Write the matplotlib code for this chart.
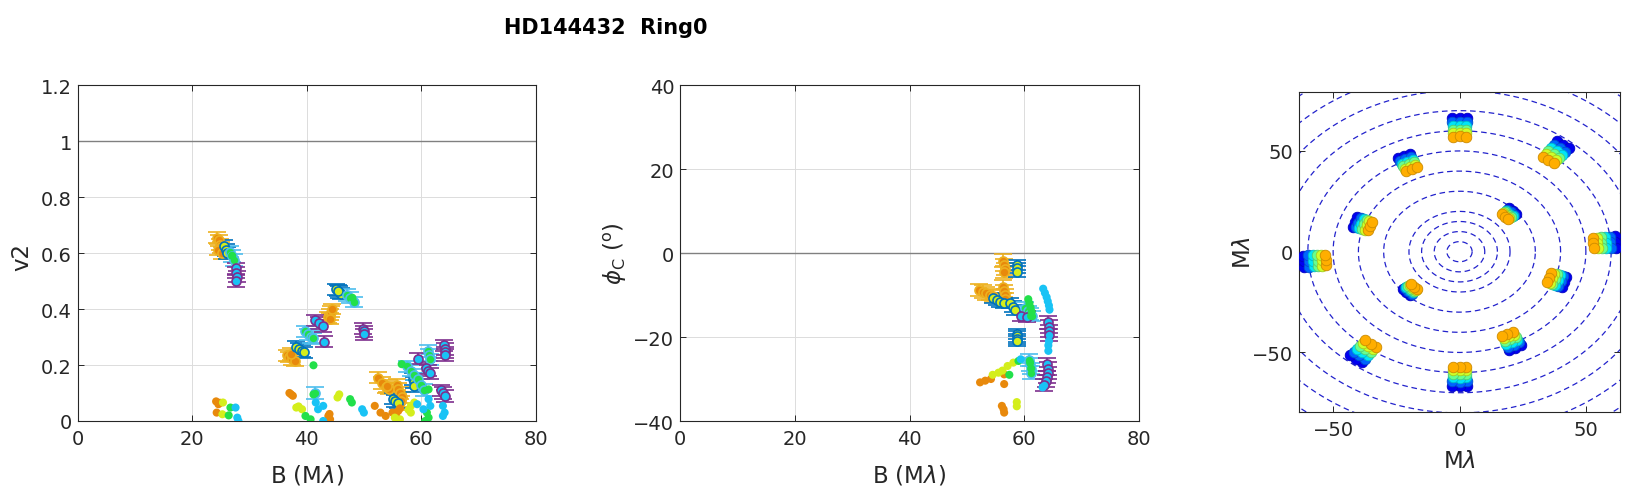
import numpy as np
import matplotlib
matplotlib.use('Agg')
import matplotlib.pyplot as plt
from matplotlib import colors as mcolors

plt.rcParams['font.family'] = ['DejaVu Sans']
plt.rcParams['mathtext.fontset'] = 'dejavusans'

TITLE = 'HD144432  Ring0'

# ---------------- squared visibility: error-bar groups (B in Mlambda) ----------------
v2_gold_B = [24.4, 24.7, 24.9, 25.1, 24.6, 25.3, 36.5, 37.0, 37.5, 38.0, 37.2, 43.8, 44.0, 44.2, 44.4, 44.0,
             52.5, 53.2, 53.8, 54.3, 54.0, 55.8, 56.0, 56.3, 56.6, 56.5, 56.2]
v2_gold_V = [0.655, 0.645, 0.630, 0.620, 0.612, 0.600, 0.235, 0.228, 0.220, 0.215, 0.240, 0.370, 0.380, 0.390, 0.400, 0.365,
             0.155, 0.135, 0.120, 0.115, 0.125, 0.130, 0.115, 0.100, 0.085, 0.070, 0.060]
v2_gold_E = [0.020, 0.021, 0.020, 0.019, 0.020, 0.021, 0.020, 0.019, 0.020, 0.020, 0.021, 0.020, 0.021, 0.020, 0.019, 0.020,
             0.020, 0.021, 0.020, 0.019, 0.020, 0.021, 0.020, 0.020, 0.019, 0.020, 0.021]

v2_blue_B = [25.6, 25.9, 26.1, 38.2, 38.7, 39.2, 39.5, 45.2, 45.6, 46.0, 45.5, 55.0, 55.5, 56.0, 58.6, 58.7, 58.8]
v2_blue_V = [0.625, 0.612, 0.600, 0.265, 0.258, 0.250, 0.245, 0.470, 0.462, 0.455, 0.466, 0.080, 0.072, 0.065, 0.150, 0.138, 0.125]
v2_blue_E = [0.020, 0.021, 0.020, 0.020, 0.019, 0.020, 0.021, 0.020, 0.021, 0.020, 0.019, 0.020, 0.021, 0.020, 0.020, 0.019, 0.021]

v2_lblue_B = [26.6, 27.0, 27.4, 39.8, 40.3, 40.8, 41.2, 41.4, 47.0, 47.6, 48.2, 57.5, 58.2, 58.8, 59.5, 60.0, 60.5,
              61.2, 61.4, 61.6]
v2_lblue_V = [0.605, 0.590, 0.575, 0.320, 0.310, 0.300, 0.295, 0.100, 0.450, 0.440, 0.425, 0.195, 0.180, 0.165, 0.150,
              0.130, 0.110, 0.250, 0.235, 0.220]
v2_lblue_E = [0.020, 0.021, 0.020, 0.020, 0.019, 0.020, 0.021, 0.020, 0.021, 0.020, 0.019, 0.020, 0.021, 0.020, 0.020,
              0.019, 0.021, 0.020, 0.021, 0.020]

v2_purple_B = [27.6, 27.7, 27.8, 27.6, 41.5, 42.2, 42.8, 43.0, 49.8, 50.0, 50.1, 59.4, 60.8, 61.2, 61.5, 64.0, 64.1,
               64.2, 64.2, 63.4, 63.8, 64.2]
v2_purple_V = [0.545, 0.530, 0.515, 0.500, 0.360, 0.350, 0.340, 0.283, 0.330, 0.320, 0.310, 0.222, 0.190, 0.180, 0.170,
               0.270, 0.258, 0.245, 0.235, 0.110, 0.100, 0.090]
v2_purple_E = [0.020, 0.021, 0.020, 0.020, 0.019, 0.020, 0.021, 0.020, 0.021, 0.020, 0.019, 0.020, 0.021, 0.020, 0.020,
               0.019, 0.021, 0.020, 0.021, 0.020, 0.020, 0.021]

# squared visibility: single points without error bars
v2_dot_orange_B = [24.2, 24.6, 24.3, 24.9, 37.0, 37.6, 37.3, 43.8, 44.1, 44.0, 51.9, 52.9, 53.8, 55.0, 56.0, 55.6, 56.3]
v2_dot_orange_V = [0.070, 0.060, 0.030, 0.065, 0.100, 0.090, 0.095, 0.018, 0.006, 0.025, 0.054, 0.030, 0.018, 0.030,
                   0.036, 0.020, 0.045]
v2_dot_yellow_B = [25.4, 25.3, 38.2, 39.2, 38.6, 45.4, 45.7, 55.4, 56.3, 58.2, 58.8, 58.2, 57.8]
v2_dot_yellow_V = [0.066, 0.024, 0.048, 0.042, 0.052, 0.084, 0.095, 0.012, 0.006, 0.054, 0.066, 0.030, 0.040]
v2_dot_green_B = [26.7, 26.4, 27.0, 39.8, 40.7, 41.2, 41.2, 47.6, 47.9, 48.0, 56.6, 61.3, 61.0, 61.3, 60.7]
v2_dot_green_V = [0.048, 0.020, 0.590, 0.018, 0.006, 0.199, 0.095, 0.078, 0.066, 0.440, 0.203, 0.113, 0.030, 0.012, 0.000]
v2_dot_cyan_B = [27.6, 27.9, 28.1, 41.6, 42.9, 42.0, 42.9, 49.7, 50.0, 61.3, 61.6, 63.8, 64.1, 63.8, 60.4, 59.3]
v2_dot_cyan_V = [0.048, 0.012, 0.000, 0.066, 0.054, 0.042, 0.000, 0.042, 0.030, 0.078, 0.054, 0.054, 0.030, 0.018,
                 0.042, 0.060]

# ---------------- closure phase (degrees) ----------------
cp_gold_B = [56.3, 56.5, 56.7, 56.4, 52.2, 52.8, 53.4, 54.0, 54.6, 56.3, 56.5, 56.6, 56.7]
cp_gold_C = [-1.8, -2.8, -3.8, -4.5, -8.8, -9.2, -9.6, -9.9, -10.2, -8.0, -9.0, -10.0, -11.0]
cp_gold_E = [1.5, 1.4, 1.5, 1.5, 1.4, 1.5, 1.5, 1.4, 1.5, 1.5, 1.4, 1.5, 1.5]

cp_blue_B = [58.7, 58.8, 58.7, 54.5, 55.2, 55.8, 56.5, 57.5, 58.0, 58.4, 58.7, 58.7, 58.8, 58.7]
cp_blue_C = [-2.8, -3.6, -4.5, -10.8, -11.2, -11.6, -12.0, -12.0, -12.8, -13.6, -19.2, -19.8, -20.4, -21.0]
cp_blue_E = [1.2, 1.2, 1.3, 1.2, 1.2, 1.3, 1.2, 1.2, 1.3, 1.2, 1.2, 1.3, 1.2, 1.2]

cp_lblue_B = [60.2, 60.6, 61.0, 61.4, 60.8, 61.0, 61.1, 61.2]
cp_lblue_C = [-13.0, -13.8, -14.5, -15.0, -25.5, -26.5, -27.5, -28.5]
cp_lblue_E = [1.3, 1.3, 1.4, 1.3, 1.5, 1.5, 1.4, 1.5]

cp_purple_B = [59.5, 60.5, 64.2, 64.3, 64.3, 64.3, 64.0, 64.1, 64.2, 64.0, 63.8, 63.5]
cp_purple_C = [-15.0, -15.2, -16.5, -17.5, -18.5, -19.5, -26.5, -27.5, -28.5, -29.5, -30.5, -31.5]
cp_purple_E = [1.3, 1.3, 1.5, 1.5, 1.4, 1.5, 1.5, 1.5, 1.4, 1.5, 1.5, 1.4]

cp_dot_orange_B = [52.3, 53.2, 54.2, 56.5, 56.5, 56.1, 56.4, 56.5]
cp_dot_orange_C = [-30.8, -30.4, -30.0, -31.2, -28.9, -36.4, -37.2, -38.0]
cp_dot_yellow_B = [54.5, 55.5, 56.2, 57.1, 58.1, 58.7, 58.7]
cp_dot_yellow_C = [-29.0, -28.5, -28.0, -26.9, -26.1, -35.5, -36.5]
cp_dot_green_B = [60.7, 60.9, 61.1, 61.3, 61.2, 61.0, 61.2, 59.0, 57.4]
cp_dot_green_C = [-11.0, -12.0, -13.0, -14.0, -15.0, -26.0, -27.5, -25.7, -29.0]
cp_dot_cyan_B = [63.3, 63.6, 63.9, 64.1, 64.3, 64.4, 64.3, 64.2, 64.2, 59.4, 63.2]
cp_dot_cyan_C = [-8.5, -9.5, -10.5, -11.5, -12.5, -13.5, -21.0, -22.0, -23.3, -25.3, -32.0]

# ---------------- uv coverage ----------------
uv_bu_m = [-4.5, 0.0, 4.5, 59.0, 62.6, 66.2, -37.4, -33.8, -30.2, 93.9, 94.3, 94.6, 30.0, 32.1, 34.2, -64.6, -63.2, -61.8]
uv_bv_m = [101.6, 101.8, 101.6, 83.9, 81.1, 78.4, 71.1, 72.8, 74.5, 11.9, 7.4, 2.9, 33.0, 30.8, 28.6, 19.0, 22.8, 26.6]
wavelengths_um = [1.53, 1.58, 1.63, 1.68, 1.73, 1.78]
ring_radii = [5, 10, 15, 20, 30, 40, 50, 60, 70, 80, 90, 100]

# ---------------- styling ----------------
AX_COL = '#262626'
GOLD, BLUE, LBLUE, PURPLE = '#EDB120', '#0072BD', '#4DBEEE', '#7E2F8E'
ORANGE, YELLOW, GREEN, CYAN = '#E8890C', '#D4EE1C', '#22E04A', '#19C3F5'
TICK_FS = 14
LABEL_FS = 16.5

fig = plt.figure(figsize=(16.44, 5.02), dpi=100)
ax1 = fig.add_axes([77.5 / 1644, 80 / 502, 458.2 / 1644, 336 / 502])
ax2 = fig.add_axes([680 / 1644, 80 / 502, 459 / 1644, 336 / 502])
ax3 = fig.add_axes([1299 / 1644, (502 - 412.7) / 502, 321 / 1644, 320 / 502])


def style(ax, grid=True):
    for s in ax.spines.values():
        s.set_color(AX_COL)
        s.set_linewidth(0.8)
    ax.tick_params(direction='in', top=True, right=True, length=4.5, width=0.7,
                   colors=AX_COL, labelsize=TICK_FS)
    ax.tick_params(axis='x', pad=6)
    ax.tick_params(axis='y', pad=4)
    if grid:
        ax.grid(True, color='#dcdcdc', lw=0.7)
        ax.set_axisbelow(True)


def eb(ax, B, Y, E, ec, fc):
    ax.errorbar(B, Y, yerr=E, fmt='o', ms=6.5, mfc=fc, mec=ec, mew=1.2, ecolor=ec,
                elinewidth=1.2, capsize=6.5, capthick=1.5, zorder=3)


def dots(ax, B, Y, c):
    ax.scatter(B, Y, s=34, c=c, edgecolors='none', zorder=4)


# ---- panel 1: V2 ----
style(ax1)
ax1.axhline(1, color='#808080', lw=1.0, zorder=1)
eb(ax1, v2_gold_B, v2_gold_V, v2_gold_E, GOLD, ORANGE)
eb(ax1, v2_blue_B, v2_blue_V, v2_blue_E, BLUE, YELLOW)
eb(ax1, v2_lblue_B, v2_lblue_V, v2_lblue_E, LBLUE, GREEN)
eb(ax1, v2_purple_B, v2_purple_V, v2_purple_E, PURPLE, CYAN)
dots(ax1, v2_dot_orange_B, v2_dot_orange_V, ORANGE)
dots(ax1, v2_dot_yellow_B, v2_dot_yellow_V, YELLOW)
dots(ax1, v2_dot_green_B, v2_dot_green_V, GREEN)
dots(ax1, v2_dot_cyan_B, v2_dot_cyan_V, CYAN)
ax1.set_xlim(0, 80)
ax1.set_ylim(0, 1.2)
ax1.set_xticks([0, 20, 40, 60, 80])
ax1.set_yticks([0, 0.2, 0.4, 0.6, 0.8, 1.0, 1.2])
ax1.set_yticklabels(['0', '0.2', '0.4', '0.6', '0.8', '1', '1.2'])
ax1.set_xlabel(r'B (M$\lambda$)', fontsize=LABEL_FS, color=AX_COL)
ax1.set_ylabel('v2', fontsize=LABEL_FS, color=AX_COL)
ax1.xaxis.set_label_coords(0.5, -0.158)
ax1.yaxis.set_label_coords(-0.121, 0.49)

# ---- panel 2: closure phase ----
style(ax2)
ax2.axhline(0, color='#808080', lw=1.0, zorder=1)
eb(ax2, cp_gold_B, cp_gold_C, cp_gold_E, GOLD, ORANGE)
eb(ax2, cp_blue_B, cp_blue_C, cp_blue_E, BLUE, YELLOW)
eb(ax2, cp_lblue_B, cp_lblue_C, cp_lblue_E, LBLUE, GREEN)
eb(ax2, cp_purple_B, cp_purple_C, cp_purple_E, PURPLE, CYAN)
dots(ax2, cp_dot_orange_B, cp_dot_orange_C, ORANGE)
dots(ax2, cp_dot_yellow_B, cp_dot_yellow_C, YELLOW)
dots(ax2, cp_dot_green_B, cp_dot_green_C, GREEN)
dots(ax2, cp_dot_cyan_B, cp_dot_cyan_C, CYAN)
ax2.set_xlim(0, 80)
ax2.set_ylim(-40, 40)
ax2.set_xticks([0, 20, 40, 60, 80])
ax2.set_yticks([-40, -20, 0, 20, 40])
ax2.set_xlabel(r'B (M$\lambda$)', fontsize=LABEL_FS, color=AX_COL)
ax2.set_ylabel(r'$\phi_{\rm C}$ ($^{\rm o}$)', fontsize=LABEL_FS, color=AX_COL)
ax2.xaxis.set_label_coords(0.5, -0.158)
ax2.yaxis.set_label_coords(-0.14, 0.5)

# ---- panel 3: uv coverage ----
style(ax3, grid=False)
theta = np.linspace(0, 2 * np.pi, 721)
for r in ring_radii:
    ax3.plot(r * np.cos(theta), r * np.sin(theta), color='#2222cc', lw=0.9,
             dashes=(4.5, 3), zorder=1)

lam = np.array(wavelengths_um)
bu = np.array(uv_bu_m)
bv = np.array(uv_bv_m)
norm = mcolors.Normalize(vmin=1.49, vmax=1.89)
cmap = plt.get_cmap('jet')
for l in lam:
    u = np.concatenate([bu / l, -bu / l])
    v = np.concatenate([bv / l, -bv / l])
    fc = np.array(cmap(norm(l)))
    ec = fc.copy()
    ec[:3] *= 0.8
    ax3.scatter(u, v, s=58, c=[fc], edgecolors=[ec], linewidths=0.6, zorder=3)

ax3.set_xlim(-63.5, 63.5)
ax3.set_ylim(-79.4, 79.4)
ax3.set_xticks([-50, 0, 50])
ax3.set_yticks([-50, 0, 50])
ax3.set_xlabel(r'M$\lambda$', fontsize=LABEL_FS, color=AX_COL)
ax3.set_ylabel(r'M$\lambda$', fontsize=LABEL_FS, color=AX_COL)
ax3.xaxis.set_label_coords(0.5, -0.154)
ax3.yaxis.set_label_coords(-0.174, 0.5)

for ax in (ax1, ax2, ax3):
    ax.xaxis.label.set_va('center')
    ax.yaxis.label.set_va('center')
    ax.yaxis.label.set_ha('center')

fig.text(606 / 1644, 1 - 28 / 502, TITLE, ha='center', va='center', fontsize=15,
         fontweight='bold', color='black')

fig.savefig('out.png', dpi=100)
